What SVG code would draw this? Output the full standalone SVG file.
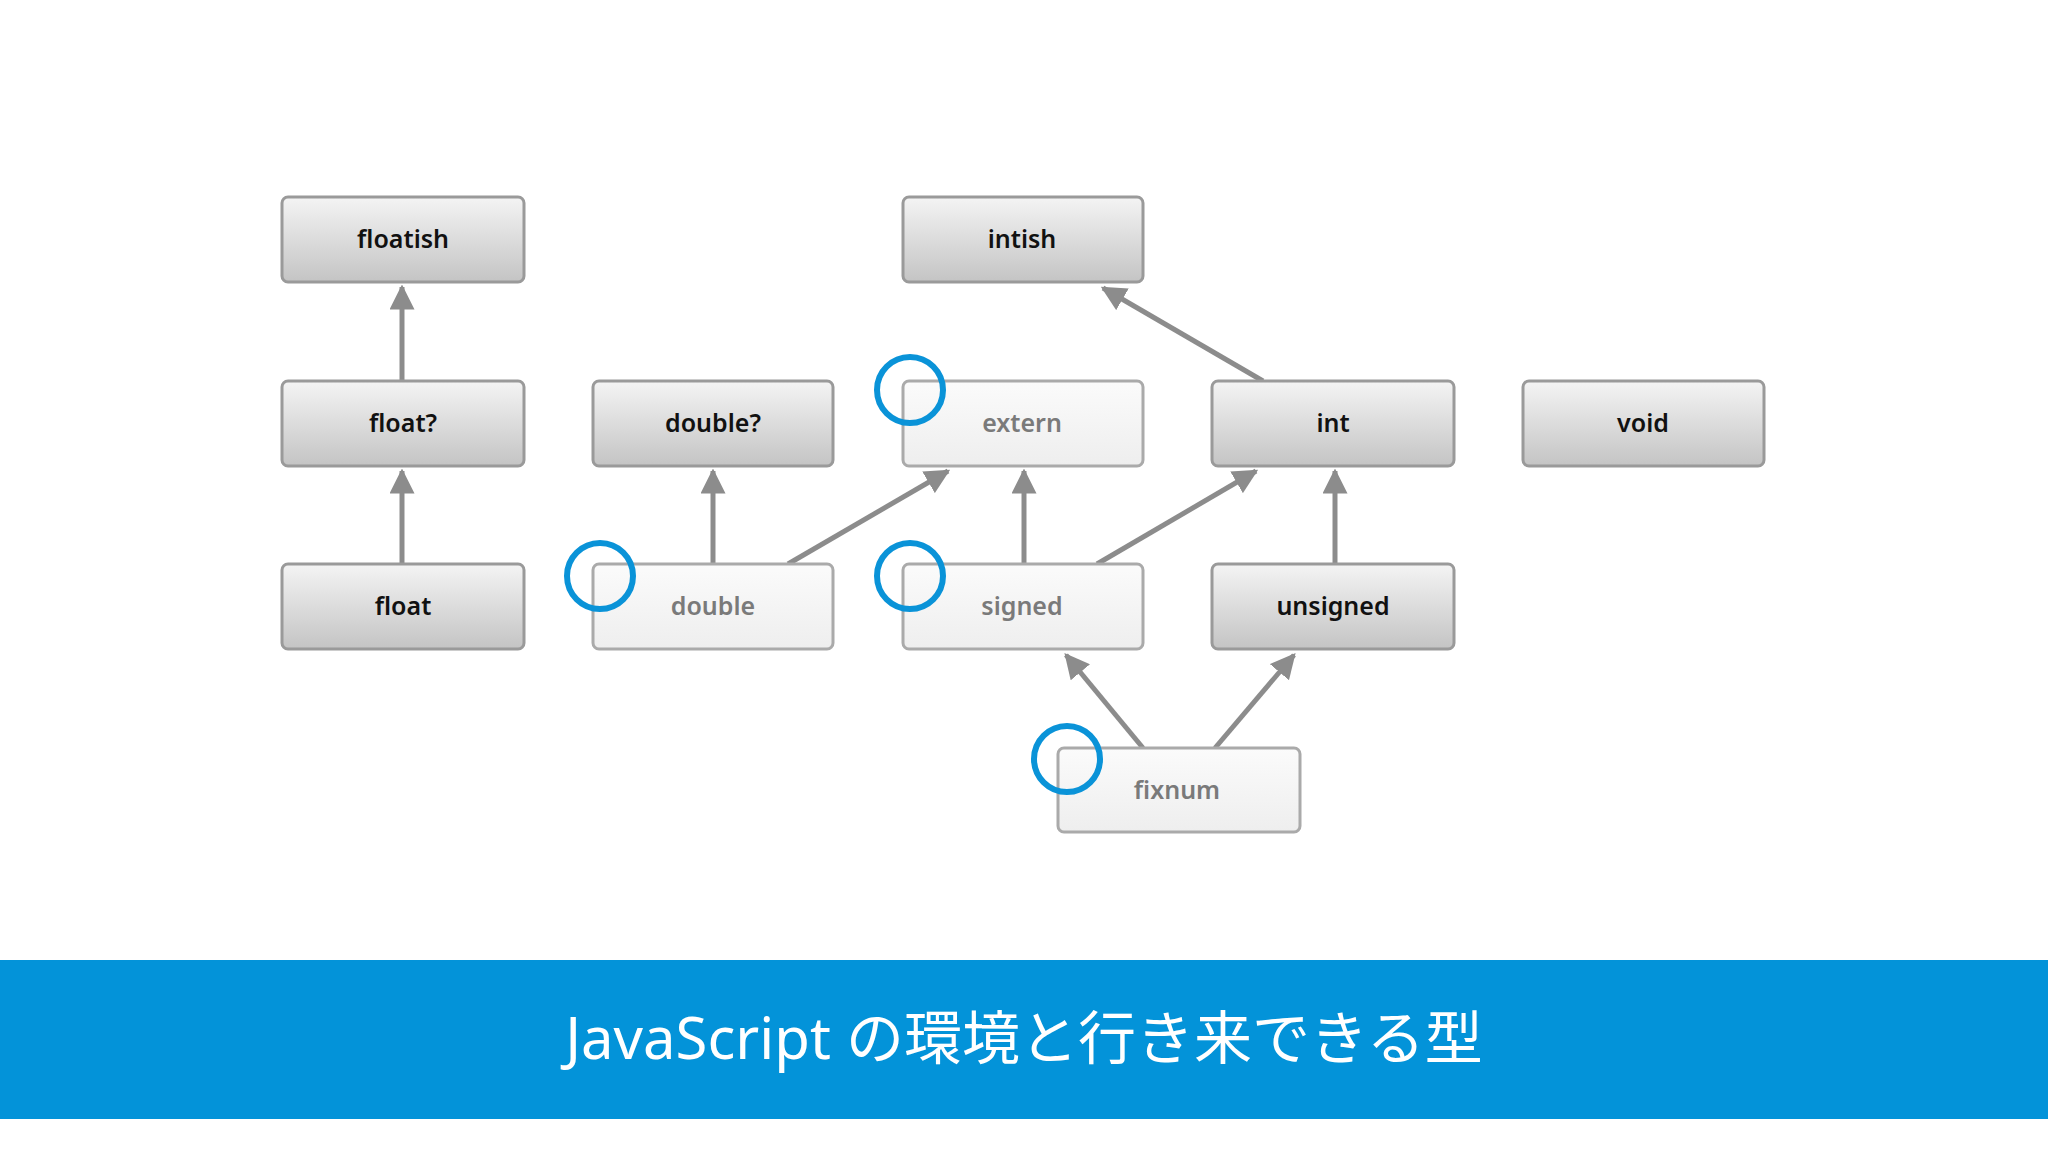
<svg xmlns="http://www.w3.org/2000/svg" width="2048" height="1152" viewBox="0 0 2048 1152">
<defs>
<linearGradient id="g" x1="0" y1="0" x2="0" y2="1"><stop offset="0" stop-color="#f4f4f4"/><stop offset="1" stop-color="#c4c4c4"/></linearGradient>
<linearGradient id="gl" x1="0" y1="0" x2="0" y2="1"><stop offset="0" stop-color="#fbfbfb"/><stop offset="1" stop-color="#eeeeee"/></linearGradient>
<marker id="a" viewBox="0 0 10 10" refX="9" refY="5" markerWidth="5" markerHeight="5" orient="auto" markerUnits="strokeWidth"><path d="M0,0 L10,5 L0,10 Z" fill="#8c8c8c"/></marker>
</defs>
<style>
.d rect{fill:url(#g);stroke:#9a9a9a;stroke-width:3}
.l rect{fill:url(#gl);stroke:#aaaaaa;stroke-width:3}
text{font-family:"Noto Sans","Open Sans",sans-serif;font-size:25px;text-anchor:middle;font-weight:600}
.d text{fill:#111}
.l text{fill:#7a7a7a}
#connectors line{stroke:#8c8c8c;stroke-width:5;marker-end:url(#a)}
.c{fill:none;stroke:#0a93d8;stroke-width:6}
</style>
<rect width="2048" height="1152" fill="#fff"/>
<g id="connectors">
<line x1="402" y1="381" x2="402" y2="287"/>
<line x1="402" y1="564" x2="402" y2="471"/>
<line x1="713" y1="564" x2="713" y2="471"/>
<line x1="788" y1="564" x2="948" y2="471"/>
<line x1="1024" y1="564" x2="1024" y2="471"/>
<line x1="1097" y1="564" x2="1256" y2="471"/>
<line x1="1335" y1="564" x2="1335" y2="471"/>
<line x1="1263" y1="381" x2="1103" y2="288"/>
<line x1="1143" y1="748" x2="1066" y2="655"/>
<line x1="1215" y1="748" x2="1294" y2="655"/>
</g>
<g id="floatish" class="d"><rect x="282" y="197" width="242" height="85" rx="6"/><text x="403" y="248">floatish</text></g>
<g id="floatq" class="d"><rect x="282" y="381" width="242" height="85" rx="6"/><text x="403" y="432">float?</text></g>
<g id="float" class="d"><rect x="282" y="564" width="242" height="85" rx="6"/><text x="403" y="615">float</text></g>
<g id="doubleq" class="d"><rect x="593" y="381" width="240" height="85" rx="6"/><text x="713" y="432">double?</text></g>
<g id="double" class="l"><rect x="593" y="564" width="240" height="85" rx="6"/><text x="713" y="615">double</text></g>
<g id="intish" class="d"><rect x="903" y="197" width="240" height="85" rx="6"/><text x="1022" y="248">intish</text></g>
<g id="extern" class="l"><rect x="903" y="381" width="240" height="85" rx="6"/><text x="1022" y="432">extern</text></g>
<g id="signed" class="l"><rect x="903" y="564" width="240" height="85" rx="6"/><text x="1022" y="615">signed</text></g>
<g id="int" class="d"><rect x="1212" y="381" width="242" height="85" rx="6"/><text x="1333" y="432">int</text></g>
<g id="unsigned" class="d"><rect x="1212" y="564" width="242" height="85" rx="6"/><text x="1333" y="615">unsigned</text></g>
<g id="void" class="d"><rect x="1523" y="381" width="241" height="85" rx="6"/><text x="1643" y="432">void</text></g>
<g id="fixnum" class="l"><rect x="1058" y="748" width="242" height="84" rx="6"/><text x="1177" y="799">fixnum</text></g>
<circle class="c" cx="910" cy="390" r="33"/>
<circle class="c" cx="600" cy="576" r="33"/>
<circle class="c" cx="910" cy="576" r="33"/>
<circle class="c" cx="1067" cy="759" r="33"/>
<rect x="0" y="960" width="2048" height="159" fill="#0393d9"/>
<text x="1024" y="1059" style="font-family:'Noto Sans','Noto Sans CJK JP',sans-serif;font-size:58px;font-weight:400;fill:#fff">JavaScript の環境と行き来できる型</text>
</svg>
